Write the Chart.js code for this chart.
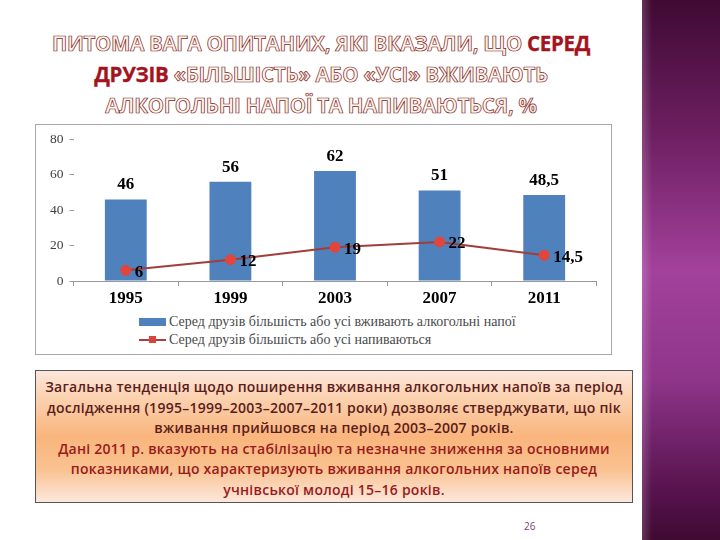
<!DOCTYPE html>
<html>
<head>
<meta charset="utf-8">
<script src="https://cdn.jsdelivr.net/npm/chart.js@4"></script>
<style>
  html, body { margin: 0; padding: 0; }
  body { width: 720px; height: 540px; position: relative; background: #fff; overflow: hidden; font-family: "Open Sans", sans-serif; }
  #band {
    position: absolute; left: 642px; top: 0; width: 78px; height: 540px;
    background: linear-gradient(to bottom, #3f0a33 0%, #6e1f62 25%, #a3419b 50%, #8f358a 70%, #5a1450 90%, #3f0a33 100%);
  }
  #band:before {
    content: ""; position: absolute; left: 0; top: 0; width: 10px; height: 100%;
    background: linear-gradient(to right, rgba(255,255,255,0.18), rgba(0,0,0,0));
  }
  #title {
    position: absolute; left: 0; top: 28px; width: 642px; text-align: center;
    font-family: "Open Sans", sans-serif; font-weight: 700; font-size: 20.5px; line-height: 31px;
    color: #fff3ea; -webkit-text-stroke: 0.7px #7d2222; letter-spacing: -0.3px;
  }
  #title .red { color: #a3141e; -webkit-text-stroke: 0.3px #a3141e; }
  #box {
    position: absolute; left: 35px; top: 124px; width: 575px; height: 229px;
    border: 1px solid #a8a8a8; background: #fff;
  }
  #chartwrap { position: absolute; left: 0; top: 0; width: 575px; height: 185px; }
  #legend {
    position: absolute; left: 103px; top: 188px; font-family: "Liberation Serif", "Times New Roman", serif;
    font-size: 14px; color: #4a4a4a; line-height: 18px;
  }
  #legend .row { display: flex; align-items: center; height: 18px; }
  #legend .sw { width: 27px; height: 8px; margin-right: 3px; position: relative; }
  #legend .bar { background: #4f81bd; }
  #legend .ln:before { content: ""; position: absolute; left: 0; right: 0; top: 3px; height: 2px; background: #a9403d; }
  #legend .ln:after { content: ""; position: absolute; left: 10px; top: 0px; width: 7px; height: 7px; background: #d9453c; }
  #text {
    position: absolute; left: 35px; top: 370px; width: 598px; height: 133px;
    border: 1px solid #555;
    background: linear-gradient(to bottom, #fde6dc 0%, #fbd2b0 20%, #f9b57d 50%, #f9c290 75%, #fde8dd 100%);
    text-align: center; font-weight: 600; font-size: 14px; line-height: 20.6px;
    padding-top: 6px; box-sizing: border-box; letter-spacing: 0.25px; white-space: nowrap;
  }
  #text .p1 { color: #5a1c1c; }
  #text .p2 { color: #9a1b1b; }
  #page { position: absolute; left: 524px; top: 519px; font-size: 10px; color: #7a3a7e; }
</style>
</head>
<body>
<div id="band"></div>
<div id="title">ПИТОМА ВАГА ОПИТАНИХ, ЯКІ ВКАЗАЛИ, ЩО <span class="red">СЕРЕД</span><br><span class="red">ДРУЗІВ</span> «БІЛЬШІСТЬ» АБО «УСІ» ВЖИВАЮТЬ<br>АЛКОГОЛЬНІ НАПОЇ ТА НАПИВАЮТЬСЯ, %</div>
<div id="box">
  <div id="chartwrap"><canvas id="chart"></canvas></div>
  <div id="legend">
    <div class="row"><div class="sw bar"></div>Серед  друзів більшість або усі вживають алкогольні напої</div>
    <div class="row"><div class="sw ln"></div>Серед  друзів більшість або усі напиваються</div>
  </div>
</div>
<div id="text"><span class="p1">Загальна тенденція щодо поширення вживання алкогольних напоїв за період<br>дослідження (1995–1999–2003–2007–2011  роки) дозволяє стверджувати, що пік<br>вживання прийшовся на період 2003–2007 років.</span><br><span class="p2">Дані 2011 р. вказують на стабілізацію та незначне зниження за основними<br>показниками, що характеризують вживання алкогольних напоїв серед<br>учнівської молоді 15–16 років.</span></div>
<div id="page">26</div>

<script>
const years = ['1995', '1999', '2003', '2007', '2011'];
const drinking = [46, 56, 62, 51, 48.5];
const drunk = [6, 12, 19, 22, 14.5];
const yTicks = [0, 20, 40, 60, 80];

function fmt(v) {
    return String(v).replace('.', ',');
}

const valueLabels = {
    id: 'valueLabels',
    afterDatasetsDraw(chart) {
        const ctx = chart.ctx;
        ctx.save();
        ctx.fillStyle = '#000';
        ctx.font = 'bold 17px "Liberation Serif", "Times New Roman", serif';
        chart.data.datasets.forEach((ds, i) => {
            const meta = chart.getDatasetMeta(i);
            meta.data.forEach((el, j) => {
                const txt = fmt(ds.data[j]);
                if (ds.type === 'bar') {
                    ctx.textAlign = 'center';
                    ctx.textBaseline = 'bottom';
                    ctx.fillText(txt, el.x, el.y - 6);
                } else {
                    ctx.textAlign = 'left';
                    ctx.textBaseline = 'middle';
                    ctx.fillText(txt, el.x + 9, el.y + 2);
                }
            });
        });
        ctx.restore();
    }
};

const config = {
    data: {
        labels: years,
        datasets: [{
                type: 'bar',
                label: 'Серед  друзів більшість або усі вживають алкогольні напої',
                data: drinking,
                backgroundColor: '#4f81bd',
                categoryPercentage: 1,
                barPercentage: 0.4,
                order: 2
            }, {
                type: 'line',
                label: 'Серед  друзів більшість або усі напиваються',
                data: drunk,
                borderColor: '#a23d3b',
                borderWidth: 2,
                pointStyle: 'circle',
                pointRadius: 4.5,
                pointBackgroundColor: '#e0463c',
                pointBorderColor: '#e0463c',
                tension: 0,
                order: 1
            }]
    },
    options: {
        responsive: true,
        maintainAspectRatio: false,
        animation: false,
        layout: { padding: { top: 12, right: 14.5, left: 0, bottom: 0 } },
        plugins: { legend: { display: false }, tooltip: { enabled: false } },
        scales: {
            x: {
                offset: true,
                grid: { display: true, drawOnChartArea: false, drawTicks: true, tickLength: 5, color: '#999', offset: true },
                border: { display: true, color: '#999' },
                ticks: { color: '#000', padding: 2, font: { family: '"Liberation Serif", "Times New Roman", serif', size: 17, weight: 'bold' } },
                afterFit(scale) { scale.height = 29; }
            },
            y: {
                min: 0,
                max: 80,
                afterBuildTicks(scale) { scale.ticks = yTicks.map(v => ({ value: v })); },
                grid: { display: true, drawOnChartArea: false, drawTicks: true, tickLength: 4, color: '#999' },
                border: { display: false },
                ticks: { color: '#404040', padding: 6, font: { family: '"Liberation Serif", "Times New Roman", serif', size: 13.5 } },
                afterFit(scale) { scale.width = 37.5; }
            }
        }
    },
    plugins: [valueLabels]
};

let ctx = document.getElementById('chart').getContext('2d');
new Chart(ctx, config);
</script>
</body>
</html>
